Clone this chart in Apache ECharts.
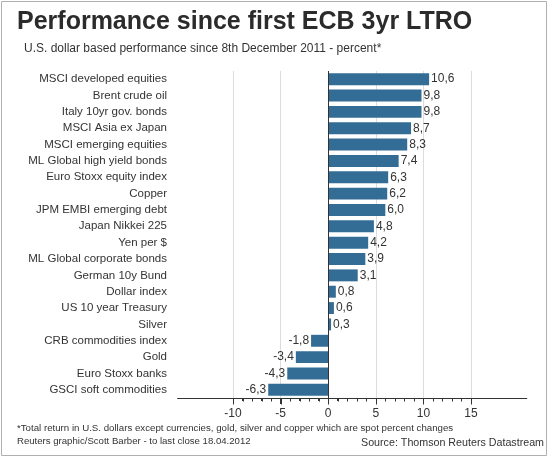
<!DOCTYPE html>
<html>
<head>
<meta charset="utf-8">
<script src="https://cdn.jsdelivr.net/npm/echarts@6/dist/echarts.min.js"></script>
<style>
html,body{margin:0;padding:0;background:#fff;}
#chart{width:550px;height:458px;}
</style>
</head>
<body>
<div id="chart"></div>
<script>
const categories = [
  "MSCI developed equities","Brent crude oil","Italy 10yr gov. bonds","MSCI Asia ex Japan",
  "MSCI emerging equities","ML Global high yield bonds","Euro Stoxx equity index","Copper",
  "JPM EMBI emerging debt","Japan Nikkei 225","Yen per $","ML Global corporate bonds",
  "German 10y Bund","Dollar index","US 10 year Treasury","Silver","CRB commodities index",
  "Gold","Euro Stoxx banks","GSCI soft commodities"
];
const values = [10.6,9.8,9.8,8.7,8.3,7.4,6.3,6.2,6.0,4.8,4.2,3.9,3.1,0.8,0.6,0.3,-1.8,-3.4,-4.3,-6.3];
const xTicks = [-10,-5,0,5,10,15];
const xMinorTicks = [-10,-9,-8,-7,-6,-5,-4,-3,-2,-1,0,1,2,3,4,5,6,7,8,9,10,11,12,13,14,15];
const axisLineRange = [-15.86, 20.9];

const titleText = "Performance since first ECB 3yr LTRO";
const subtitleText = "U.S. dollar based performance since 8th December 2011 - percent*";
const footnoteText = "*Total return in U.S. dollars except currencies, gold, silver and copper which are spot percent changes";
const creditText = "Reuters graphic/Scott Barber - to last close 18.04.2012";
const sourceText = "Source: Thomson Reuters Datastream";

const FONT = "'Liberation Sans', Arial, sans-serif";
const TXT = '#333';
const BAR = '#336d95';

const chart = echarts.init(document.getElementById('chart'), null, {renderer:'canvas'});

const barData = values.map(v => ({
  value: v,
  label: { position: v >= 0 ? 'right' : 'left' }
}));

const border = {
  id: 'border', type: 'rect', shape: {x: 1.5, y: 1.5, width: 545, height: 454},
  style: {fill: 'none', stroke: '#b0b0b0', lineWidth: 1}, silent: true, z: 100
};

chart.setOption({
  animation: false,
  backgroundColor: '#fff',
  graphic: [border],
  title: [
    {text: titleText, left: 12, top: 5, textStyle: {fontFamily: FONT, fontSize: 25, fontWeight: 'bold', color: '#2b2b2b'}},
    {text: subtitleText, left: 19, top: 38, textStyle: {fontFamily: FONT, fontSize: 12, fontWeight: 'normal', color: TXT}},
    {text: footnoteText, left: 12, top: 418, textStyle: {fontFamily: FONT, fontSize: 9.7, fontWeight: 'normal', color: TXT}},
    {text: creditText, left: 12, top: 431, textStyle: {fontFamily: FONT, fontSize: 9.6, fontWeight: 'normal', color: TXT}},
    {text: sourceText, right: 1, top: 433, textStyle: {fontFamily: FONT, fontSize: 10.7, fontWeight: 'normal', color: TXT}}
  ],
  grid: [
    {left: 233, right: 79, top: 71, height: 327, containLabel: false}
  ],
  xAxis: [
    {
      gridIndex: 0, type: 'value', min: xTicks[0], max: xTicks[xTicks.length-1], interval: 5,
      axisLine: {show: true, onZero: false, lineStyle: {color: '#333', width: 1}},
      axisTick: {show: true, inside: false, length: 6, lineStyle: {color: '#333', width: 1}},
      minorTick: {show: true, splitNumber: 5, length: 3, lineStyle: {color: '#333', width: 1}},
      splitLine: {show: true, lineStyle: {color: '#dcdcdc', width: 1}},
      axisLabel: {fontFamily: FONT, fontSize: 12, color: TXT, margin: 10}
    }
  ],
  yAxis: [
    {
      gridIndex: 0, type: 'category', data: categories, inverse: true,
      axisLine: {show: false}, axisTick: {show: false}, splitLine: {show: false},
      axisLabel: {fontFamily: FONT, fontSize: 11.5, color: TXT, margin: 66}
    }
  ],
  series: [{
    type: 'bar', xAxisIndex: 0, yAxisIndex: 0,
    data: barData,
    barCategoryGap: '27%',
    itemStyle: {color: BAR},
    label: {
      show: true, distance: 2, fontFamily: FONT, fontSize: 12, color: TXT,
      formatter: p => p.value.toFixed(1).replace('.', ',')
    },
    markLine: {
      silent: true, symbol: 'none', animation: false,
      label: {show: false},
      lineStyle: {color: '#333', type: 'solid', width: 1},
      data: [{xAxis: 0}]
    }
  }]
});

// extended axis line and tick marks, positioned with the chart's own x scale
try {
  const rect = chart.getModel().getComponent('grid', 0).coordinateSystem.getRect();
  const yAxisPix = Math.round(rect.y + rect.height) + 0.5;
  const toX = v => chart.convertToPixel({xAxisIndex: 0}, v);
  const extras = [border, {
    id: 'axisExt', type: 'line', silent: true, z: 50,
    shape: {x1: toX(axisLineRange[0]), y1: yAxisPix, x2: toX(axisLineRange[1]), y2: yAxisPix},
    style: {stroke: '#333', lineWidth: 1}
  }];
  xMinorTicks.forEach((v, i) => {
    const x = Math.round(toX(v)) + 0.5;
    const len = xTicks.indexOf(v) >= 0 ? 6 : 3;
    extras.push({
      id: 'tick' + i, type: 'line', silent: true, z: 50,
      shape: {x1: x, y1: yAxisPix, x2: x, y2: yAxisPix + len},
      style: {stroke: '#333', lineWidth: 1}
    });
  });
  chart.setOption({graphic: extras});
} catch (e) { console.error(e); }
</script>
</body>
</html>
